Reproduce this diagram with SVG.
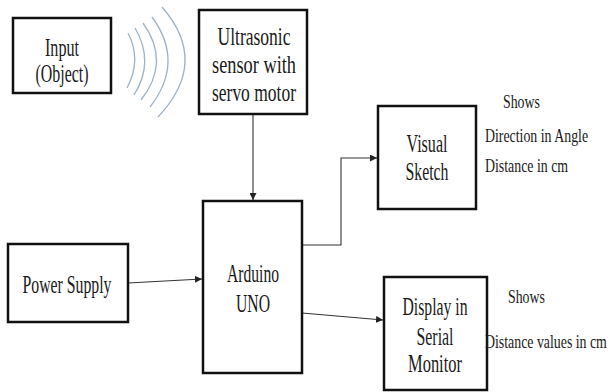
<svg xmlns="http://www.w3.org/2000/svg" width="614" height="392" viewBox="0 0 614 392">
<defs>
<style>
.box{fill:#fff;stroke:#111;stroke-width:2.5}
text{font-family:'Liberation Serif','DejaVu Serif',serif;fill:#1a1a1a}
.t{font-size:25px;text-anchor:middle}
.s{font-size:18px}
.c{fill:none;stroke:#333;stroke-width:1.1}
.w{fill:none;stroke:#9fb2c6;stroke-width:1.3}
</style>
<marker id="ah" viewBox="0 0 10 10" refX="10" refY="5" markerWidth="7" markerHeight="7" markerUnits="userSpaceOnUse" orient="auto">
<path d="M0,0 L10,5 L0,10 Z" fill="#222"/>
</marker>
</defs>
<rect width="614" height="392" fill="#fff"/>
<g id="waves">
<path class="w" d="M128,33 Q142,60 127,88"/>
<path class="w" d="M135,28 Q155,62 134,95"/>
<path class="w" d="M143,23 Q171,62 141,100"/>
<path class="w" d="M152,17 Q185,62 150,107"/>
<path class="w" d="M162,7 Q210,62 158,117"/>
</g>
<g id="connectors">
<path class="c" d="M253,114 L253,200" marker-end="url(#ah)"/>
<path class="c" d="M128,283 L202,279" marker-end="url(#ah)"/>
<path class="c" d="M302,245 L341,245 L341,158 L377,158" marker-end="url(#ah)"/>
<path class="c" d="M302,313 L383,320" marker-end="url(#ah)"/>
</g>
<g id="input">
<rect class="box" x="13" y="18" width="98" height="75"/>
<text class="t" x="62" y="56" textLength="34" lengthAdjust="spacingAndGlyphs">Input</text>
<text class="t" x="62" y="82" textLength="53" lengthAdjust="spacingAndGlyphs">(Object)</text>
</g>
<g id="ultrasonic">
<rect class="box" x="199" y="10" width="108" height="104"/>
<text class="t" x="254" y="45" textLength="73" lengthAdjust="spacingAndGlyphs">Ultrasonic</text>
<text class="t" x="254" y="73" textLength="84" lengthAdjust="spacingAndGlyphs">sensor with</text>
<text class="t" x="254" y="101" textLength="84" lengthAdjust="spacingAndGlyphs">servo motor</text>
</g>
<g id="power">
<rect class="box" x="8" y="244" width="120" height="78"/>
<text class="t" x="67" y="293" textLength="89" lengthAdjust="spacingAndGlyphs">Power Supply</text>
</g>
<g id="arduino">
<rect class="box" x="203" y="201" width="99" height="172"/>
<text class="t" x="253" y="282" textLength="52" lengthAdjust="spacingAndGlyphs">Arduino</text>
<text class="t" x="253" y="312" textLength="34" lengthAdjust="spacingAndGlyphs">UNO</text>
</g>
<g id="visual">
<rect class="box" x="378" y="106" width="98" height="103"/>
<text class="t" x="427" y="152" textLength="41" lengthAdjust="spacingAndGlyphs">Visual</text>
<text class="t" x="427" y="180" textLength="43" lengthAdjust="spacingAndGlyphs">Sketch</text>
</g>
<g id="display">
<rect class="box" x="384" y="277" width="103" height="113"/>
<text class="t" x="435" y="315" textLength="65" lengthAdjust="spacingAndGlyphs">Display in</text>
<text class="t" x="435" y="345" textLength="37" lengthAdjust="spacingAndGlyphs">Serial</text>
<text class="t" x="435" y="372" textLength="54" lengthAdjust="spacingAndGlyphs">Monitor</text>
</g>
<g id="notes">
<text class="s" transform="translate(503,108) scale(0.77,1)">Shows</text>
<text class="s" transform="translate(485,142) scale(0.77,1)">Direction in Angle</text>
<text class="s" transform="translate(485,172) scale(0.77,1)">Distance in cm</text>
<text class="s" transform="translate(508,303) scale(0.77,1)">Shows</text>
<text class="s" transform="translate(485,348) scale(0.77,1)">Distance values in cm</text>
</g>
</svg>
